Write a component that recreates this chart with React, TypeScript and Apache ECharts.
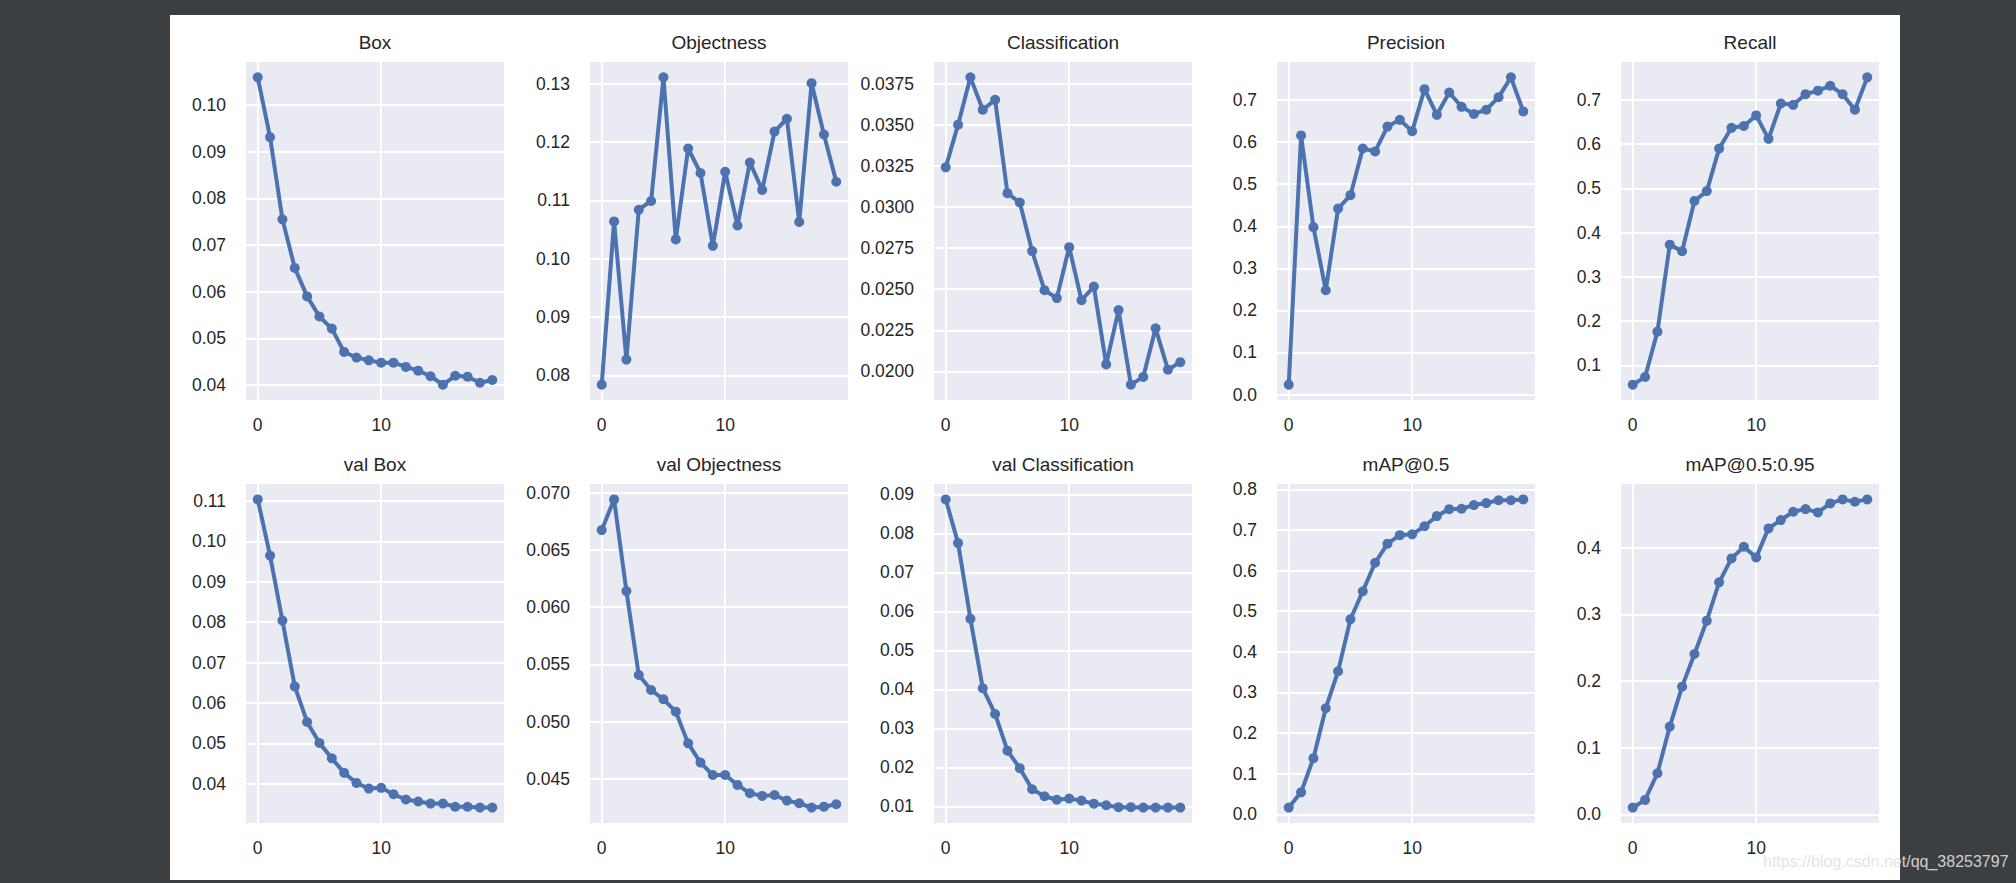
import React, { useEffect, useRef } from "react";
import * as echarts from "echarts";

// ---- data ----
const epochs = [0, 1, 2, 3, 4, 5, 6, 7, 8, 9, 10, 11, 12, 13, 14, 15, 16, 17, 18, 19];
const titles = [
  "Box",
  "Objectness",
  "Classification",
  "Precision",
  "Recall",
  "val Box",
  "val Objectness",
  "val Classification",
  "mAP@0.5",
  "mAP@0.5:0.95",
];

const trainBox = [0.1059, 0.0931, 0.0755, 0.0651, 0.059, 0.0547, 0.0521, 0.0471, 0.0459, 0.0453, 0.0448, 0.0448, 0.0439, 0.0431, 0.0419, 0.0401, 0.042, 0.0418, 0.0405, 0.0411];
const trainObj = [0.0784, 0.1064, 0.0827, 0.1084, 0.1099, 0.1311, 0.1033, 0.1189, 0.1147, 0.1022, 0.1149, 0.1057, 0.1165, 0.1118, 0.1218, 0.124, 0.1063, 0.1301, 0.1213, 0.1132];
const trainCls = [0.03242, 0.03502, 0.0379, 0.03593, 0.03653, 0.03085, 0.03028, 0.02732, 0.02494, 0.02446, 0.02756, 0.02433, 0.02516, 0.02042, 0.02373, 0.01919, 0.01966, 0.02262, 0.0201, 0.02056];
const precision = [0.0236, 0.616, 0.398, 0.248, 0.442, 0.474, 0.585, 0.578, 0.637, 0.653, 0.626, 0.726, 0.665, 0.718, 0.684, 0.667, 0.677, 0.707, 0.754, 0.673];
const recall = [0.0566, 0.0738, 0.1763, 0.373, 0.358, 0.4717, 0.494, 0.59, 0.637, 0.641, 0.665, 0.612, 0.692, 0.689, 0.713, 0.721, 0.732, 0.713, 0.678, 0.751];
const valBox = [0.1104, 0.0965, 0.0804, 0.0641, 0.0553, 0.0501, 0.0463, 0.0427, 0.0402, 0.0388, 0.039, 0.0374, 0.0361, 0.0356, 0.0351, 0.0351, 0.0343, 0.0343, 0.0341, 0.0341];
const valObj = [0.06674, 0.06942, 0.06141, 0.05408, 0.05277, 0.05196, 0.05088, 0.04811, 0.04643, 0.04535, 0.04535, 0.04448, 0.04375, 0.04352, 0.0436, 0.04311, 0.04288, 0.0425, 0.04258, 0.04279];
const valCls = [0.0887, 0.0775, 0.0581, 0.0403, 0.0337, 0.0243, 0.0198, 0.0144, 0.0126, 0.0117, 0.012, 0.0115, 0.0107, 0.0103, 0.0098, 0.0098, 0.0097, 0.0097, 0.0097, 0.0097];
const map50 = [0.0164, 0.054, 0.138, 0.261, 0.352, 0.48, 0.549, 0.619, 0.666, 0.687, 0.689, 0.709, 0.734, 0.751, 0.752, 0.761, 0.766, 0.773, 0.773, 0.775];
const map5095 = [0.01, 0.0215, 0.0615, 0.1315, 0.1915, 0.2405, 0.2905, 0.348, 0.384, 0.4015, 0.3855, 0.429, 0.4415, 0.454, 0.458, 0.453, 0.4665, 0.4725, 0.469, 0.4725];

const xTicks = [0, 10];
const ticksBox = [0.04, 0.05, 0.06, 0.07, 0.08, 0.09, 0.1];
const ticksObj = [0.08, 0.09, 0.1, 0.11, 0.12, 0.13];
const ticksCls = [0.02, 0.0225, 0.025, 0.0275, 0.03, 0.0325, 0.035, 0.0375];
const ticksPrecision = [0, 0.1, 0.2, 0.3, 0.4, 0.5, 0.6, 0.7];
const ticksRecall = [0.1, 0.2, 0.3, 0.4, 0.5, 0.6, 0.7];
const ticksValBox = [0.04, 0.05, 0.06, 0.07, 0.08, 0.09, 0.1, 0.11];
const ticksValObj = [0.045, 0.05, 0.055, 0.06, 0.065, 0.07];
const ticksValCls = [0.01, 0.02, 0.03, 0.04, 0.05, 0.06, 0.07, 0.08, 0.09];
const ticksMap50 = [0, 0.1, 0.2, 0.3, 0.4, 0.5, 0.6, 0.7, 0.8];
const ticksMap5095 = [0, 0.1, 0.2, 0.3, 0.4];
const decimals = [2, 2, 4, 1, 1, 2, 3, 2, 1, 1];

const seriesValues = [trainBox, trainObj, trainCls, precision, recall, valBox, valObj, valCls, map50, map5095];
const yTicks = [ticksBox, ticksObj, ticksCls, ticksPrecision, ticksRecall, ticksValBox, ticksValObj, ticksValCls, ticksMap50, ticksMap5095];

const watermark = "https://blog.csdn.net/qq_38253797";

// ---- layout ----
const gridLefts = [246, 590, 934, 1277, 1621];
const gridTops = [62, 484];
const gridWidth = 258;
const gridHeights = [338, 339];
const titleTops = [33, 455];
const FONT = "'Liberation Sans', Arial, sans-serif";
const TEXT = "#262626";
const LINE = "#4C72B0";

export default function App() {
  const ref = useRef<HTMLDivElement>(null);

  useEffect(() => {
    if (!ref.current) return;
    const chart = echarts.init(ref.current, null, { renderer: "svg" });

    const grids: any[] = [];
    const xAxes: any[] = [];
    const yAxes: any[] = [];
    const series: any[] = [];
    const titleOpts: any[] = [];

    const xMin = epochs[0] - 0.05 * (epochs[epochs.length - 1] - epochs[0]);
    const xMax = epochs[epochs.length - 1] + 0.05 * (epochs[epochs.length - 1] - epochs[0]);

    seriesValues.forEach((vals, i) => {
      const row = Math.floor(i / 5);
      const col = i % 5;
      const lo = Math.min(...vals);
      const hi = Math.max(...vals);
      const pad = 0.05 * (hi - lo);
      grids.push({
        left: gridLefts[col],
        top: gridTops[row],
        width: gridWidth,
        height: gridHeights[row],
        show: true,
        backgroundColor: "#EAEAF2",
        borderWidth: 0,
        containLabel: false,
      });
      xAxes.push({
        type: "value",
        gridIndex: i,
        min: xMin,
        max: xMax,
        axisLine: { show: false },
        axisTick: { show: false, customValues: xTicks },
        axisLabel: {
          customValues: xTicks,
          color: TEXT,
          fontSize: 17.5,
          fontFamily: FONT,
          margin: 16,
        },
        splitLine: { show: true, lineStyle: { color: "#ffffff", width: 2 } },
      });
      yAxes.push({
        type: "value",
        gridIndex: i,
        min: lo - pad,
        max: hi + pad,
        axisLine: { show: false },
        axisTick: { show: false, customValues: yTicks[i] },
        axisLabel: {
          customValues: yTicks[i],
          formatter: (v: number) => v.toFixed(decimals[i]),
          color: TEXT,
          fontSize: 17.5,
          fontFamily: FONT,
          margin: 20,
        },
        splitLine: { show: true, lineStyle: { color: "#ffffff", width: 2 } },
      });
      series.push({
        type: "line",
        xAxisIndex: i,
        yAxisIndex: i,
        data: epochs.map((e, j) => [e, vals[j]]),
        symbol: "circle",
        symbolSize: 10,
        showSymbol: true,
        lineStyle: { color: LINE, width: 4 },
        itemStyle: { color: LINE },
        clip: false,
      });
      titleOpts.push({
        text: titles[i],
        left: gridLefts[col] + gridWidth / 2,
        top: titleTops[row],
        textAlign: "center",
        padding: 0,
        textStyle: { color: TEXT, fontSize: 19, fontWeight: "normal", fontFamily: FONT },
      });
    });

    chart.setOption({
      animation: false,
      backgroundColor: "transparent",
      title: titleOpts,
      grid: grids,
      xAxis: xAxes,
      yAxis: yAxes,
      series,
      graphic: [
        {
          type: "text",
          left: 1763,
          top: 853,
          z: 100,
          style: {
            text: watermark,
            fill: "rgba(225,225,225,0.9)",
            fontSize: 16,
            fontFamily: FONT,
          },
        },
      ],
    });

    return () => chart.dispose();
  }, []);

  return (
    <div
      style={{
        position: "fixed",
        left: 0,
        top: 0,
        width: 2016,
        height: 883,
        background: "#3c3f41",
      }}
    >
      <div
        style={{
          position: "absolute",
          left: 170,
          top: 15,
          width: 1730,
          height: 865,
          background: "#ffffff",
        }}
      />
      <div ref={ref} style={{ position: "absolute", left: 0, top: 0, width: 2016, height: 883 }} />
    </div>
  );
}
